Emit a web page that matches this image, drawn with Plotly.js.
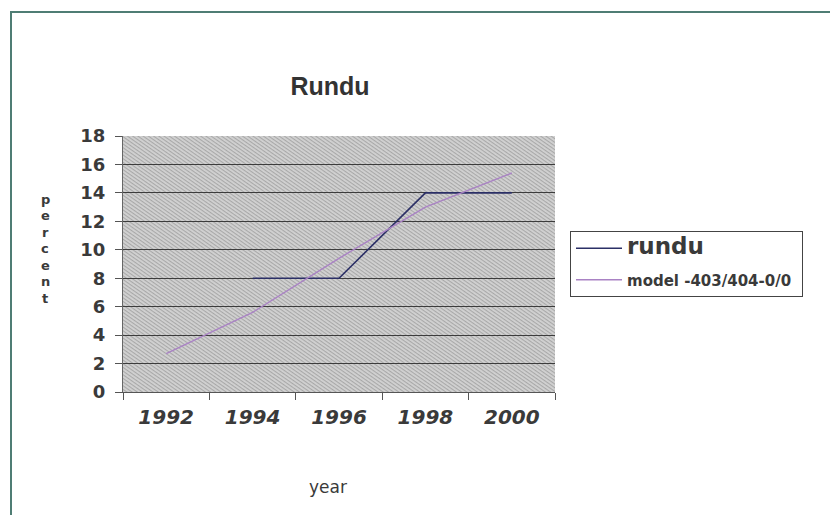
<!DOCTYPE html>
<html>
<head>
<meta charset="utf-8">
<script src="https://cdn.plot.ly/plotly-3.0.1.min.js"></script>
<style>
  html, body { margin: 0; padding: 0; background: #fff; }
  #wrap { position: relative; width: 830px; height: 515px; overflow: hidden; }
  #chart { width: 830px; height: 515px; }
  #frame { position: absolute; left: 10px; top: 11px; width: 840px; height: 520px;
           border-left: 2px solid #4f7d74; border-top: 2px solid #4f7d74; pointer-events: none; }
</style>
</head>
<body>
<div id="wrap">
  <div id="chart"></div>
  <div id="frame"></div>
</div>
<script>
// ---- data ----
const years = ['1992', '1994', '1996', '1998', '2000'];
const rundu = [null, 8, 8, 14, 14];
const model = [2.7, 5.6, 9.4, 13.0, 15.4];
const yTicks = [0, 2, 4, 6, 8, 10, 12, 14, 16, 18];
const chartTitle = 'Rundu';
const xTitle = 'year';
const yTitleLetters = ['p', 'e', 'r', 'c', 'e', 'n', 't'];
const seriesNames = ['rundu', 'model -403/404-0/0'];

// plot area in pixels (layout only)
const L = 123, R = 555, T = 136, B = 392;
const PW = R - L, PH = B - T;

// hatched grey background for the plot area
const hatch = 'data:image/svg+xml;utf8,' + encodeURIComponent(
  '<svg xmlns="http://www.w3.org/2000/svg" width="' + PW + '" height="' + PH + '">' +
  '<defs><pattern id="p" width="3" height="3" patternUnits="userSpaceOnUse" patternTransform="rotate(35)">' +
  '<rect width="3" height="3" fill="#d2d2d2"/><rect width="3" height="1.1" fill="#a8a8a8"/></pattern></defs>' +
  '<rect width="' + PW + '" height="' + PH + '" fill="url(#p)"/></svg>');

const traces = [
  {
    x: years, y: rundu, name: '<span style="font-size:23px">' + seriesNames[0] + '</span>',
    type: 'scatter', mode: 'lines', connectgaps: false, legendgroup: 'a',
    line: { color: '#2b2f66', width: 1.6 }
  },
  {
    x: years, y: model, name: seriesNames[1] + '&nbsp;',
    type: 'scatter', mode: 'lines', legendgroup: 'b',
    line: { color: '#a982c4', width: 1.4 }
  }
];

const annotations = [
  {
    text: xTitle, xref: 'paper', yref: 'paper',
    x: (328 - L) / PW, y: -(487 - B) / PH, xanchor: 'center', yanchor: 'middle',
    showarrow: false,
    font: { family: 'DejaVu Sans, sans-serif', size: 17, color: '#3a3a3a' }
  }
];
yTitleLetters.forEach(function (ch, i) {
  annotations.push({
    text: ch, xref: 'paper', yref: 'paper',
    x: -(L - 45) / PW, y: (B - (199 + i * 16.5)) / PH,
    xanchor: 'center', yanchor: 'middle', showarrow: false,
    font: { family: 'DejaVu Sans, sans-serif', size: 13, color: '#3a3a3a', weight: 'bold' }
  });
});

const layout = {
  width: 830, height: 515,
  margin: { l: L, r: 830 - R, t: T, b: 515 - B },
  paper_bgcolor: '#ffffff',
  plot_bgcolor: '#c4c4c4',
  title: {
    text: '<b>' + chartTitle + '</b>',
    font: { family: 'Liberation Sans, Arial, sans-serif', size: 25, color: '#333333' },
    xref: 'container', yref: 'container', x: 330 / 830, xanchor: 'center',
    y: 1 - 86 / 515, yanchor: 'middle'
  },
  xaxis: {
    type: 'category', categoryorder: 'array', categoryarray: years,
    range: [-0.5, years.length - 0.5],
    tickson: 'boundaries', ticks: 'outside', ticklen: 7, tickcolor: '#555',
    showline: true, linecolor: '#555', linewidth: 1,
    showgrid: false, zeroline: false,
    tickfont: { family: 'DejaVu Sans, sans-serif', size: 20, color: '#3a3a3a', weight: 'bold', style: 'italic' },
    ticklabelstandoff: 7,
    fixedrange: true
  },
  yaxis: {
    range: [0, 18], tickvals: yTicks, ticktext: yTicks.map(String),
    ticks: 'outside', ticklen: 7, tickcolor: '#555',
    showline: true, linecolor: '#666', linewidth: 1,
    showgrid: true, gridcolor: '#3c3c3c', gridwidth: 1,
    zeroline: false,
    tickfont: { family: 'DejaVu Sans, sans-serif', size: 18, color: '#3a3a3a', weight: 'bold' },
    ticklabelstandoff: 6,
    fixedrange: true
  },
  legend: {
    x: (570 - L) / PW, xanchor: 'left',
    y: (B - 231) / PH, yanchor: 'top',
    bgcolor: '#ffffff', bordercolor: '#444', borderwidth: 1,
    font: { family: 'DejaVu Sans, sans-serif', size: 15, color: '#3a3a3a', weight: 'bold' },
    tracegroupgap: 9, itemwidth: 46
  },
  images: [{
    source: hatch, xref: 'x domain', yref: 'y domain',
    x: 0, y: 1, sizex: 1, sizey: 1, sizing: 'stretch',
    xanchor: 'left', yanchor: 'top', layer: 'below'
  }],
  annotations: annotations,
  showlegend: true
};

Plotly.newPlot('chart', traces, layout, { displayModeBar: false, staticPlot: true });
</script>
</body>
</html>
